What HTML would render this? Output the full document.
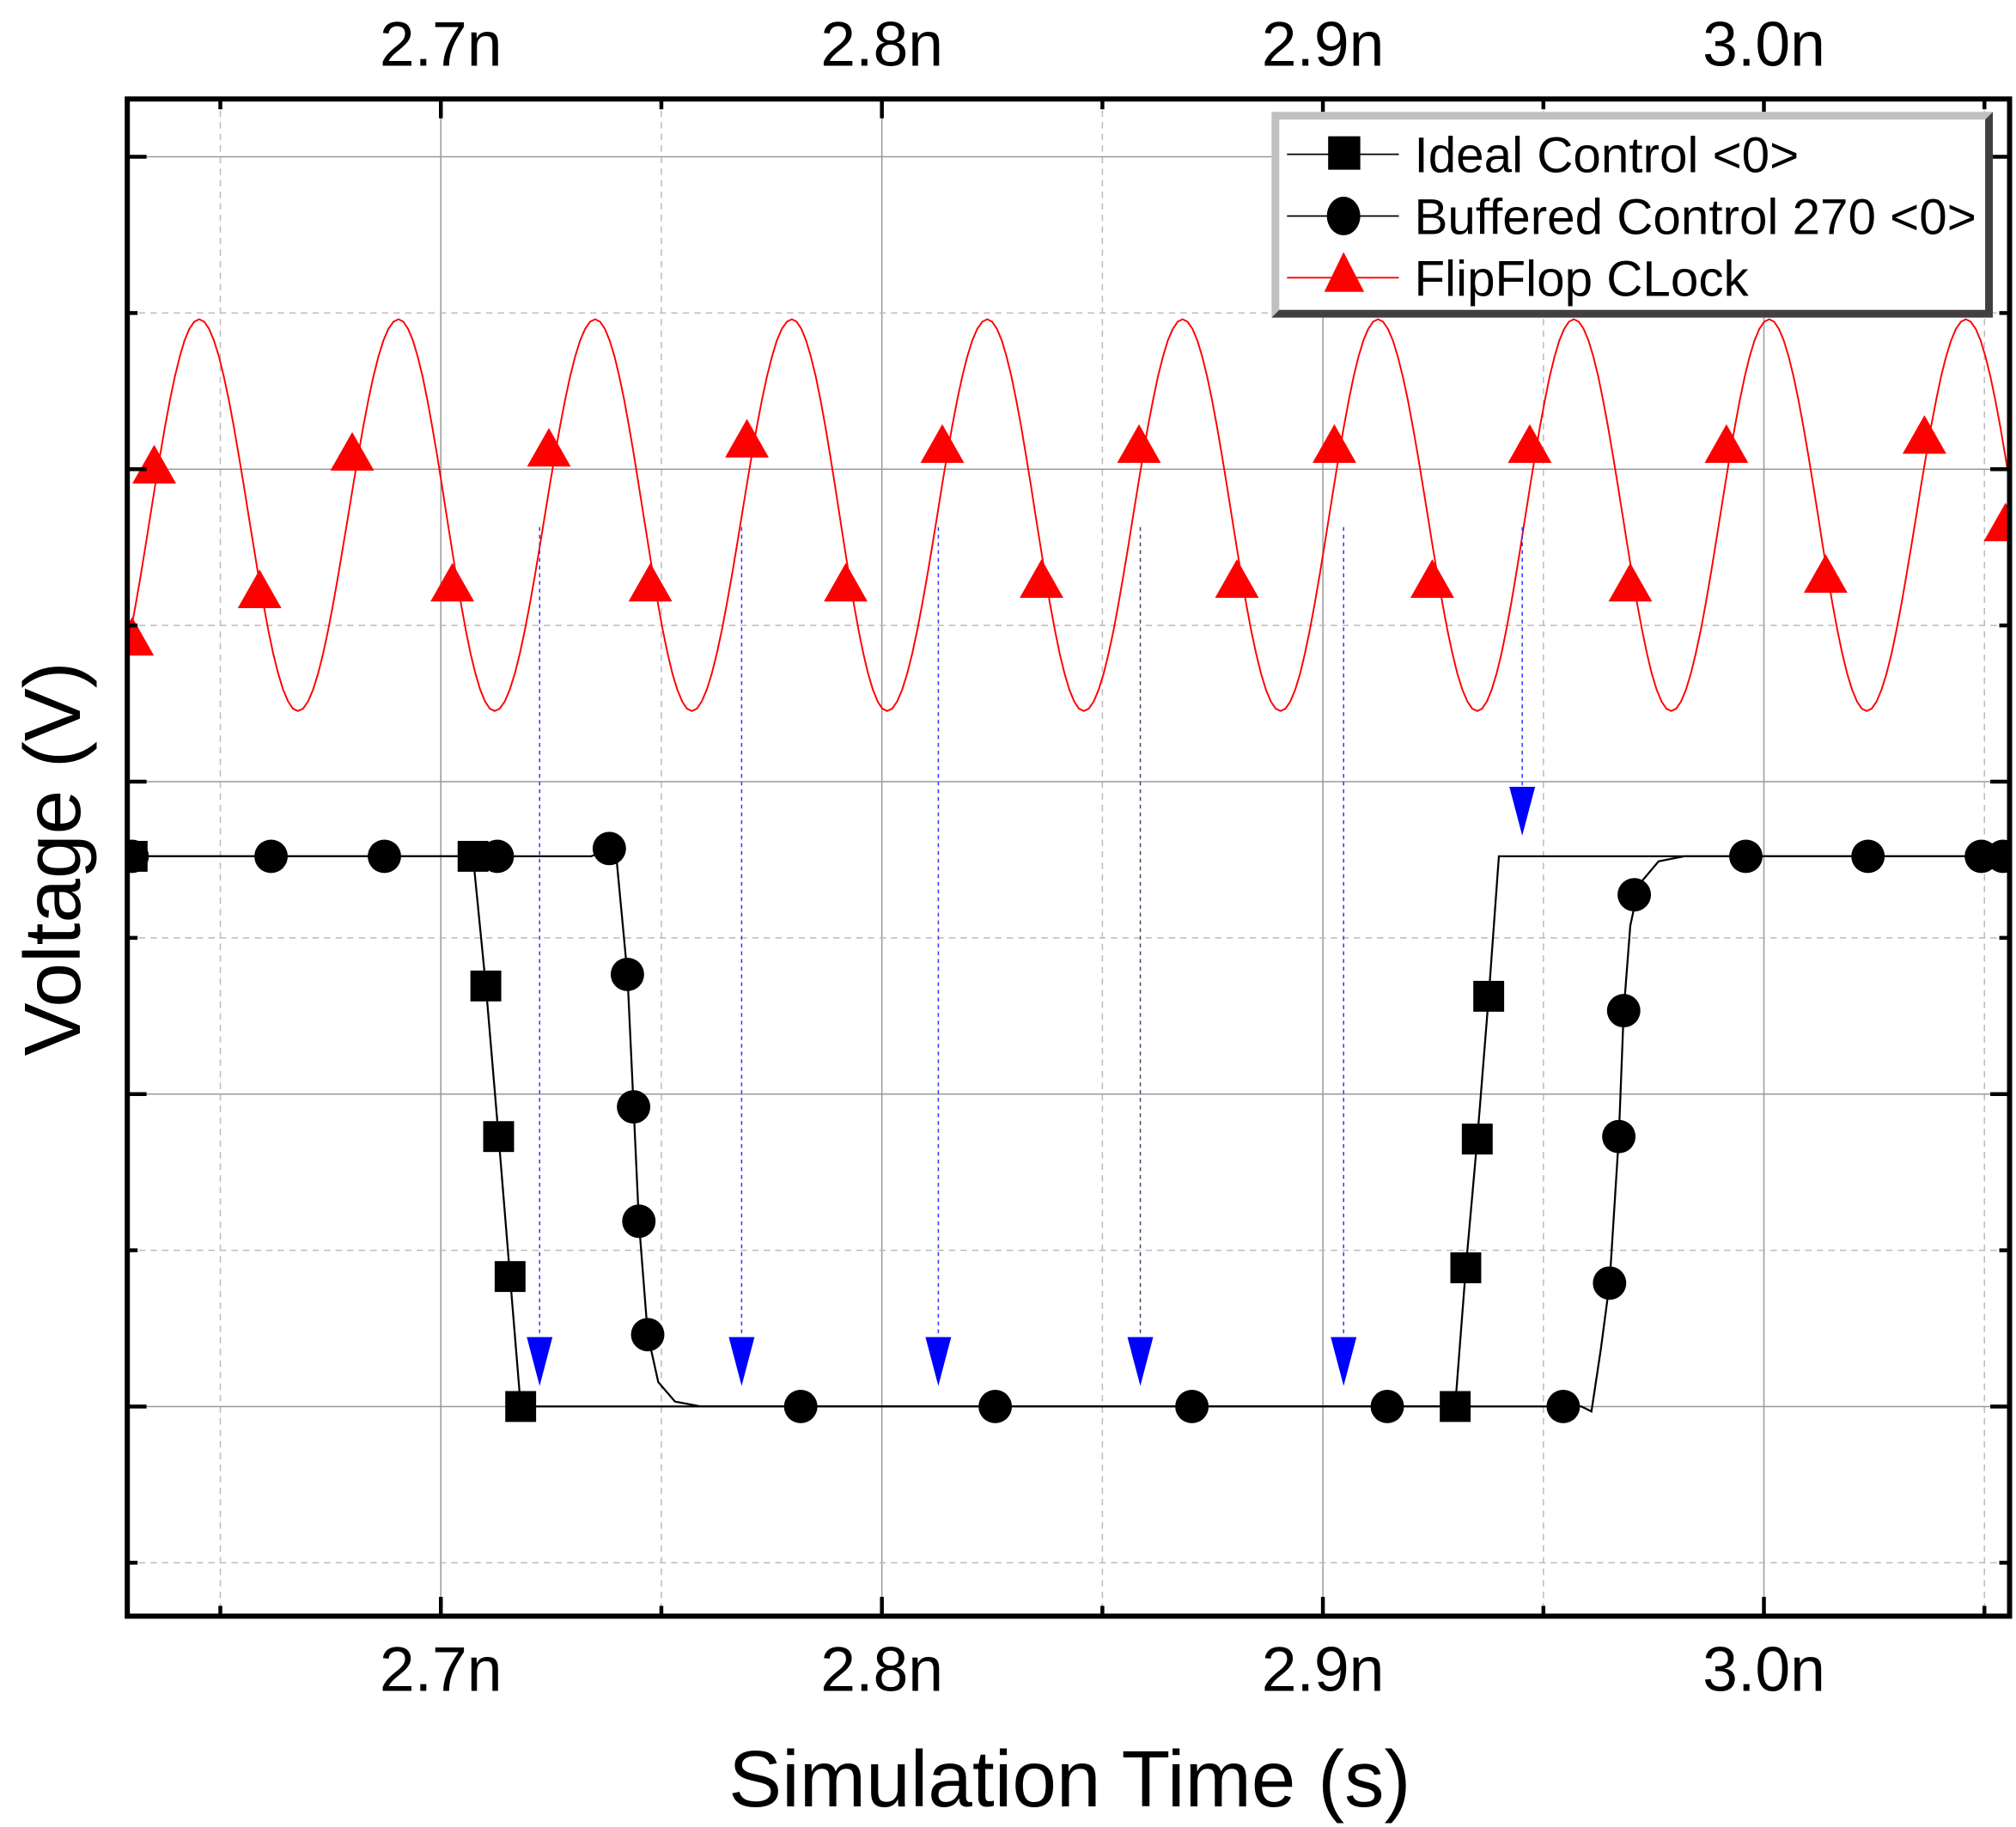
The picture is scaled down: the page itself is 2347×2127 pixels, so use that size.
<!DOCTYPE html>
<html><head><meta charset="utf-8"><style>
html,body{margin:0;padding:0;background:#fff;}
svg{display:block;font-family:"Liberation Sans",Arial,sans-serif;}
</style></head><body>
<svg id="chart" width="2347" height="2127" viewBox="0 0 1568 1421" preserveAspectRatio="none" xmlns="http://www.w3.org/2000/svg">
<g id="grid"></g>
<g id="series"></g>
<g id="axes"></g>
<text x="832" y="1405" font-size="62" text-anchor="middle">Simulation Time (s)</text>
<text transform="translate(62,668) rotate(-90)" font-size="62" text-anchor="middle">Voltage (V)</text>
<g>
  <rect x="989" y="87" width="561" height="160" fill="#fff"/>
  <polygon points="989,87 1550,87 1544,93 995,93 995,241 989,247" fill="#c0c0c0"/>
  <polygon points="1550,87 1550,247 989,247 995,241 1544,241 1544,93" fill="#404040"/>
  <g>
    <line x1="1001" y1="120" x2="1088" y2="120" stroke="#000" stroke-width="1.2"/>
    <rect x="1033" y="106" width="25" height="26" fill="#000"/>
    <text x="1100" y="134" font-size="39">Ideal Control &lt;0&gt;</text>
  </g>
  <g>
    <line x1="1001" y1="168" x2="1088" y2="168" stroke="#000" stroke-width="1.2"/>
    <ellipse cx="1045" cy="168" rx="13" ry="15" fill="#000"/>
    <text x="1100" y="182" font-size="39">Buffered Control 270 &lt;0&gt;</text>
  </g>
  <g>
    <line x1="1001" y1="216" x2="1088" y2="216" stroke="#f00" stroke-width="1.2"/>
    <polygon points="1045,196 1030,227 1061,227" fill="#f00"/>
    <text x="1100" y="230" font-size="39">FlipFlop CLock</text>
  </g>
</g>
</svg>
<script>
const clockExtremaT=[2.6231,2.6452,2.6676,2.6904,2.7122,2.7350,2.7569,2.7796,2.8012,2.8239,2.8458,2.8682,2.8904,2.9125,2.9350,2.9569,2.9790,3.0012,3.0233,3.0458,3.0680];
const clockExtremaV=[2.226,3.48,2.226,3.48,2.226,3.48,2.226,3.48,2.226,3.48,2.226,3.48,2.226,3.48,2.226,3.48,2.226,3.48,2.226,3.48,2.226];
const clockMarkT=[2.6350,2.6799,2.7245,2.7694,2.8137,2.8583,2.9026,2.9469,2.9915,3.0364,2.6300,2.6589,2.7026,2.7475,2.7918,2.8362,2.8805,2.9248,2.9697,3.0140,3.0548];
const clockMarkV=[3.008,3.049,3.062,3.091,3.074,3.074,3.074,3.074,3.074,3.103,2.457,2.609,2.630,2.630,2.630,2.642,2.642,2.642,2.630,2.658,2.823];
const idealT=[2.6289,2.7073,2.7102,2.7131,2.7157,2.7181,2.9300,2.9324,2.9350,2.9376,2.9399,3.0557];
const idealV=[1.761,1.761,1.346,0.864,0.416,0,0,0.444,0.856,1.313,1.761,1.761];
const idealMarkT=[2.6300,2.7073,2.7102,2.7131,2.7157,2.7181,2.9300,2.9324,2.9350,2.9376];
const idealMarkV=[1.761,1.761,1.346,0.864,0.416,0,0,0.444,0.856,1.313];
const bufT=[2.6289,2.7341,2.7382,2.7399,2.7423,2.7437,2.7449,2.7469,2.7493,2.7531,2.7589,2.9586,2.9609,2.9630,2.9650,2.9671,2.9682,2.9697,2.9717,2.9761,2.9819,3.0557];
const bufV=[1.761,1.761,1.786,1.745,1.383,0.959,0.593,0.230,0.078,0.016,0,0,-0.016,0.181,0.395,0.864,1.267,1.539,1.671,1.745,1.761,1.761];
const bufMarkT=[2.6300,2.6615,2.6872,2.7128,2.7382,2.7423,2.7437,2.7449,2.7469,2.7816,2.8257,2.8703,2.9146,2.9545,2.9650,2.9671,2.9682,2.9706,2.9959,3.0236,3.0493,3.0542];
const bufMarkV=[1.761,1.761,1.761,1.761,1.786,1.383,0.959,0.593,0.230,0,0,0,0,0,0.395,0.864,1.267,1.638,1.761,1.761,1.761,1.761];
const arrowT=[2.7224,2.7682,2.8128,2.8586,2.9047,2.9452];
const arrowTipV=[0.066,0.066,0.066,0.066,0.066,1.827];
const arrowStartV=2.815;
const xTicks=[2.7,2.8,2.9,3.0];
const xTickLabels=["2.7n","2.8n","2.9n","3.0n"];
const xMinor=[2.65,2.75,2.85,2.95,3.05];
const yMajor=[0,1,2,3,4];
const yMinor=[-0.5,0.5,1.5,2.5,3.5];

const L=99,R=1563,T=77,B=1257;
const t0=2.6289,t1=3.0557,v0=-0.671,v1=4.185;
const X=t=>L+(t-t0)/(t1-t0)*(R-L);
const Y=v=>B-(v-v0)/(v1-v0)*(B-T);
const NS="http://www.w3.org/2000/svg";
function mk(tag,parent,attrs){const e=document.createElementNS(NS,tag);for(const k in attrs)e.setAttribute(k,attrs[k]);parent.appendChild(e);return e;}
const grid=document.getElementById('grid'),series=document.getElementById('series'),axes=document.getElementById('axes'),svg=document.getElementById('chart');
mk('defs',svg,{}).innerHTML='<clipPath id="pc"><rect x="99" y="77" width="1464" height="1180"/></clipPath>';
series.setAttribute('clip-path','url(#pc)');

xTicks.forEach(t=>{const l=mk('line',grid,{x1:X(t),x2:X(t),y1:T,y2:B,stroke:'#999','stroke-width':1});

});
xMinor.forEach(t=>{const l=mk('line',grid,{x1:X(t),x2:X(t),y1:T,y2:B,stroke:'#bbb','stroke-width':1,'stroke-dasharray':'5,4'});

});
yMajor.forEach(v=>{const l=mk('line',grid,{x1:L,x2:R,y1:Y(v),y2:Y(v),stroke:'#999','stroke-width':1});

});
yMinor.forEach(v=>{const l=mk('line',grid,{x1:L,x2:R,y1:Y(v),y2:Y(v),stroke:'#bbb','stroke-width':1,'stroke-dasharray':'5,4'});

});

let d='';
for(let i=0;i<clockExtremaT.length-1;i++){const ta=clockExtremaT[i],tb=clockExtremaT[i+1],va=clockExtremaV[i],vb=clockExtremaV[i+1];
 for(let k=0;k<=20;k++){const f=k/20,t=ta+(tb-ta)*f,v=va+(vb-va)*(1-Math.cos(Math.PI*f))/2;d+=(d?'L':'M')+X(t).toFixed(1)+','+Y(v).toFixed(1);}}
const clk=mk('path',series,{d:d,fill:'none',stroke:'#f00','stroke-width':1.3});


clockMarkT.forEach((t,i)=>{const x=X(t),y=Y(clockMarkV[i]);const p=mk('polygon',series,{points:`${x},${y-17} ${x-17},${y+13} ${x+17},${y+13}`,fill:'#f00'});

});

arrowT.forEach((t,i)=>{const x=X(t),y0=Y(arrowStartV),y1=Y(arrowTipV[i]);
 const l=mk('line',series,{x1:x,x2:x,y1:y0,y2:y1-30,stroke:i==3?'#446':'#33f','stroke-width':1,'stroke-dasharray':'3,3'});
 
 
 const p=mk('polygon',series,{points:`${x-10},${y1-38} ${x+10},${y1-38} ${x},${y1}`,fill:'#00f'});
 
 });

function line(ts,vs,name){const p=mk('path',series,{d:ts.map((t,i)=>(i?'L':'M')+X(t).toFixed(1)+','+Y(vs[i]).toFixed(1)).join(''),fill:'none',stroke:'#000','stroke-width':1.5});
 
 }
line(idealT,idealV,'ideal-line');
line(bufT,bufV,'buffered-line');
idealMarkT.forEach((t,i)=>{const r=mk('rect',series,{x:X(t)-12,y:Y(idealMarkV[i])-12,width:24,height:24,fill:'#000'});

});
bufMarkT.forEach((t,i)=>{const c=mk('ellipse',series,{cx:X(t),cy:Y(bufMarkV[i]),rx:13,ry:13,fill:'#000'});

});

const fr=mk('rect',axes,{x:L,y:T,width:R-L,height:B-T,fill:'none',stroke:'#000','stroke-width':4});


xTicks.forEach((t,i)=>{const x=X(t);
 mk('line',axes,{x1:x,x2:x,y1:B,y2:B-15,stroke:'#000','stroke-width':3});
 mk('line',axes,{x1:x,x2:x,y1:T,y2:T+15,stroke:'#000','stroke-width':3});
 const a=mk('text',axes,{x:x,y:1315,'font-size':49,'text-anchor':'middle'});a.textContent=xTickLabels[i];
 
 
 const b=mk('text',axes,{x:x,y:51,'font-size':49,'text-anchor':'middle'});b.textContent=xTickLabels[i];
 
 });
xMinor.forEach(t=>{const x=X(t);mk('line',axes,{x1:x,x2:x,y1:B,y2:B-8,stroke:'#000','stroke-width':3});mk('line',axes,{x1:x,x2:x,y1:T,y2:T+8,stroke:'#000','stroke-width':3});});
yMajor.forEach(v=>{const y=Y(v);mk('line',axes,{x1:L,x2:L+15,y1:y,y2:y,stroke:'#000','stroke-width':3});mk('line',axes,{x1:R,x2:R-15,y1:y,y2:y,stroke:'#000','stroke-width':3});});
yMinor.forEach(v=>{const y=Y(v);mk('line',axes,{x1:L,x2:L+8,y1:y,y2:y,stroke:'#000','stroke-width':3});mk('line',axes,{x1:R,x2:R-8,y1:y,y2:y,stroke:'#000','stroke-width':3});});
</script>
</body></html>
